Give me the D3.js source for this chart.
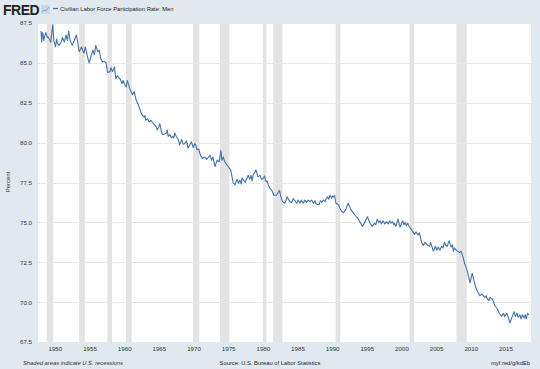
<!DOCTYPE html>
<html>
<head>
<meta charset="utf-8">
<script src="https://cdn.jsdelivr.net/npm/d3@7"></script>
<style>
  body { margin: 0; background: #e1e9f0; }
  svg { display: block; font-family: "Liberation Sans", Arial, sans-serif; }
</style>
</head>
<body>
<svg id="chart" width="540" height="369"></svg>
<script>
const obsYear = [
  1948.0, 1948.1, 1948.2, 1948.3, 1948.4, 1948.5, 1948.7, 1948.9,
  1949.1, 1949.4, 1949.7, 1949.85,
  1950.1, 1950.25, 1950.4, 1950.6, 1950.9,
  1951.1, 1951.35, 1951.6, 1951.8,
  1952.0, 1952.2, 1952.5, 1952.8,
  1953.1, 1953.3, 1953.5, 1953.85,
  1954.2, 1954.4, 1954.7, 1954.95,
  1955.2, 1955.5, 1955.7, 1955.9,
  1956.2, 1956.4, 1956.6, 1956.85,
  1957.1, 1957.4, 1957.6, 1957.95,
  1958.1, 1958.3, 1958.6, 1958.8,
  1959.0, 1959.4, 1959.7, 1959.85,
  1960.1, 1960.3, 1960.45, 1960.6, 1960.8,
  1961.0, 1961.2, 1961.45, 1961.7, 1961.9,
  1962.2, 1962.4, 1962.65, 1962.9,
  1963.0, 1963.1, 1963.35, 1963.6, 1963.85,
  1964.2, 1964.4, 1964.6, 1964.8,
  1965.0, 1965.15, 1965.4, 1965.6,
  1966.1, 1966.2, 1966.35, 1966.6, 1966.8,
  1967.0, 1967.15, 1967.3, 1967.5, 1967.8,
  1968.0, 1968.3, 1968.5, 1968.75,
  1969.0, 1969.2, 1969.7, 1969.95,
  1970.2, 1970.35, 1970.5, 1970.75,
  1971.0, 1971.3, 1971.6, 1971.9,
  1972.2, 1972.4, 1972.6, 1972.8, 1972.95,
  1973.1, 1973.4, 1973.7, 1973.95,
  1974.1, 1974.3, 1974.5, 1974.75,
  1975.0, 1975.35, 1975.5, 1975.7,
  1976.0, 1976.15, 1976.3, 1976.5, 1976.7, 1976.9,
  1977.0, 1977.2, 1977.45, 1977.7, 1977.9,
  1978.1, 1978.3, 1978.45, 1978.6, 1978.8,
  1979.0, 1979.3, 1979.6, 1979.8,
  1980.05, 1980.25, 1980.45, 1980.6, 1980.8,
  1981.0, 1981.3, 1981.6, 1981.95,
  1982.4, 1982.6, 1982.85,
  1983.2, 1983.5, 1983.9,
  1984.15, 1984.4, 1984.65, 1984.9,
  1985.1, 1985.35, 1985.55, 1985.8,
  1986.05, 1986.3, 1986.55, 1986.8,
  1987.05, 1987.3, 1987.5, 1987.7,
  1988.1, 1988.3, 1988.5, 1988.75,
  1989.0, 1989.15, 1989.3, 1989.5, 1989.7, 1989.95,
  1990.05, 1990.2, 1990.35, 1990.55, 1990.9,
  1991.2, 1991.6, 1991.95,
  1992.3, 1992.7,
  1993.05, 1993.4, 1993.8,
  1994.1, 1994.4, 1994.7,
  1995.1, 1995.45, 1995.8,
  1996.1, 1996.3, 1996.5, 1996.7, 1996.9,
  1997.1, 1997.35, 1997.6, 1997.85,
  1998.1, 1998.3, 1998.5, 1998.7, 1998.9,
  1999.0, 1999.2, 1999.5, 1999.8,
  2000.0, 2000.2, 2000.35, 2000.55, 2000.7, 2000.9,
  2001.1, 2001.5, 2001.9,
  2002.1, 2002.4, 2002.6, 2002.9,
  2003.15, 2003.4, 2003.8,
  2004.05, 2004.2, 2004.6, 2004.9,
  2005.1, 2005.3, 2005.55, 2005.8,
  2006.0, 2006.2, 2006.4, 2006.6, 2006.75, 2006.9,
  2007.05, 2007.2, 2007.35, 2007.5, 2007.65, 2007.8,
  2008.1, 2008.4, 2008.6, 2008.9,
  2009.1, 2009.4, 2009.7, 2009.9,
  2010.2, 2010.5, 2010.7,
  2011.0, 2011.3, 2011.6,
  2012.05, 2012.2, 2012.4, 2012.6, 2012.8,
  2013.1, 2013.3, 2013.5, 2013.8,
  2014.1, 2014.45, 2014.7, 2014.9,
  2015.2, 2015.45, 2015.65, 2015.9,
  2016.25, 2016.45, 2016.65, 2016.85,
  2017.1, 2017.25, 2017.45, 2017.7, 2017.85,
  2018.0, 2018.2, 2018.4
];
const obsValue = [
  87.0, 86.3, 86.9, 86.8, 86.4, 86.6, 86.9, 86.6,
  86.6, 86.3, 87.4, 86.4,
  86.0, 86.5, 86.2, 86.1, 86.3,
  86.6, 86.3, 86.75, 86.4,
  87.0, 86.4, 86.1, 86.4,
  86.75, 86.3, 85.7, 86.0,
  85.6, 86.0, 85.4, 85.0,
  85.4, 85.8, 85.5, 86.1,
  85.7, 85.8, 85.3, 85.05,
  85.1, 85.0, 84.4, 84.45,
  84.7, 84.45, 84.75, 84.0,
  84.2, 84.0, 83.7, 83.9,
  83.6, 83.5, 83.9, 83.7, 83.4,
  83.2, 83.0, 83.2, 82.7, 82.5,
  82.2, 81.9, 81.7, 81.6,
  81.7, 81.4, 81.5, 81.3, 81.4,
  81.2, 81.1, 81.0, 80.8,
  81.0, 81.2, 80.6, 80.5,
  80.6, 80.8, 80.4, 80.5, 80.3,
  80.4, 80.3, 80.6, 80.4, 80.2,
  79.85, 80.2, 79.9, 79.95,
  80.1, 79.65, 80.05, 79.7,
  79.95, 79.8, 79.55, 79.6,
  79.2, 79.0, 79.1, 78.95,
  79.1, 79.2, 78.9, 79.1, 78.8,
  78.5, 78.9, 78.8, 79.5,
  78.9, 79.1, 78.8, 78.65,
  78.5, 78.3, 78.0, 77.5,
  77.35, 77.55, 77.7, 77.45, 77.65, 77.4,
  77.8, 77.65, 77.5, 77.75, 77.95,
  77.7, 77.95, 77.6, 77.95, 78.1,
  78.3, 77.85, 77.95, 77.7,
  77.75, 77.9, 77.55, 77.6, 77.35,
  77.15, 77.0, 76.7, 76.7,
  77.0, 76.6, 76.3,
  76.2, 76.6, 76.3,
  76.25, 76.5, 76.35, 76.2,
  76.4, 76.2, 76.4, 76.2,
  76.4, 76.25, 76.4, 76.3,
  76.4, 76.2, 76.35, 76.15,
  76.1, 76.35, 76.25, 76.4,
  76.3, 76.5, 76.6, 76.45, 76.7, 76.5,
  76.65, 76.6, 76.7, 76.2, 76.1,
  75.8, 75.6, 75.8,
  76.2, 75.8,
  75.6, 75.4, 75.2,
  74.95, 74.75, 75.0,
  75.35, 74.95, 74.75,
  74.95, 74.85, 75.2, 75.0, 75.1,
  74.9, 75.1, 74.9, 75.05,
  74.9, 75.1, 74.95, 75.05, 74.85,
  74.95, 74.75, 75.2, 74.7,
  74.95, 75.1, 74.85, 75.0, 74.8, 74.95,
  74.75, 74.5, 74.25,
  74.4, 74.2, 74.35, 73.75,
  73.55, 73.75, 73.55,
  73.5, 73.75, 73.2, 73.5,
  73.25, 73.45, 73.25, 73.5,
  73.4, 73.75, 73.55, 73.5, 73.7, 73.85,
  73.6, 73.45, 73.6, 73.2, 73.4, 73.3,
  73.2, 73.1, 73.2, 72.8,
  72.45, 72.1, 71.6, 71.2,
  71.8, 71.3, 70.95,
  70.65, 70.4, 70.5,
  70.3, 70.4, 70.2, 70.1, 70.3,
  70.2, 70.0, 69.75, 69.6,
  69.3, 69.1, 69.3, 69.1,
  69.3, 69.0, 68.7, 69.0,
  69.4, 69.1, 69.3, 69.05,
  69.2, 68.95, 69.2, 69.0, 69.2,
  68.95, 69.3, 69.2
];

// NBER recessions (decimal years)
const recStart = [1948.83, 1953.5, 1957.58, 1960.25, 1969.92, 1973.83, 1980.0, 1981.5, 1990.5, 2001.17, 2007.92];
const recEnd   = [1949.75, 1954.33, 1958.25, 1961.08, 1970.83, 1975.17, 1980.5, 1982.83, 1991.17, 2001.83, 2009.42];

const yTicks = [67.5, 70.0, 72.5, 75.0, 77.5, 80.0, 82.5, 85.0, 87.5];
const xTicks = [1950, 1955, 1960, 1965, 1970, 1975, 1980, 1985, 1990, 1995, 2000, 2005, 2010, 2015];

const seriesName = "Civilian Labor Force Participation Rate: Men";

const plotL = 38, plotR = 531, plotT = 23, plotB = 342;

const svg = d3.select("#chart");

const x = d3.scaleLinear().domain([1948, 2018.4]).range([41, 529]);
const y = d3.scaleLinear().domain([67.5, 87.5]).range([plotB, plotT]);

// background
svg.append("rect").attr("width", 540).attr("height", 369).attr("fill", "#e1e9f0");
svg.append("rect")
    .attr("x", plotL).attr("y", plotT)
    .attr("width", plotR - plotL).attr("height", plotB - plotT)
    .attr("fill", "#ffffff");

// recession bars
svg.append("g")
    .selectAll("rect")
    .data(recStart.map((s, i) => [s, recEnd[i]]))
    .enter().append("rect")
    .attr("x", d => x(d[0]))
    .attr("y", plotT)
    .attr("width", d => x(d[1]) - x(d[0]))
    .attr("height", plotB - plotT)
    .attr("fill", "#e3e3e3");

// grid lines
svg.append("g")
    .selectAll("line")
    .data(yTicks)
    .enter().append("line")
    .attr("x1", plotL).attr("x2", plotR)
    .attr("y1", d => Math.round(y(d)) + 0.5)
    .attr("y2", d => Math.round(y(d)) + 0.5)
    .attr("stroke", "#e8e8e8")
    .attr("stroke-width", 1);

// y axis
const yAxis = svg.append("g")
    .attr("transform", "translate(" + plotL + ",0)")
    .call(d3.axisLeft(y).tickValues(yTicks).tickFormat(d3.format(".1f")).tickSize(0).tickPadding(6));
yAxis.select(".domain").remove();
yAxis.selectAll("text").attr("font-size", 6.2).attr("fill", "#333").attr("font-family", "inherit");

// x axis
const xAxis = svg.append("g")
    .attr("transform", "translate(0," + plotB + ")")
    .call(d3.axisBottom(x).tickValues(xTicks).tickFormat(d3.format("d")).tickSize(0).tickPadding(5));
xAxis.select(".domain").remove();
xAxis.selectAll("text").attr("font-size", 6.2).attr("fill", "#333").attr("font-family", "inherit");

// y label
svg.append("text")
    .attr("transform", "translate(10,182) rotate(-90)")
    .attr("text-anchor", "middle")
    .attr("font-size", 6)
    .attr("fill", "#333")
    .text("Percent");

// the line
svg.append("path")
    .datum(obsYear.map((yr, i) => [yr, obsValue[i]]))
    .attr("fill", "none")
    .attr("stroke", "#4572a7")
    .attr("stroke-width", 1.1)
    .attr("stroke-linejoin", "round")
    .attr("d", d3.line().x(d => x(d[0])).y(d => y(d[1])));

// header: logo + legend
svg.append("text")
    .attr("x", 3).attr("y", 14.5)
    .attr("font-size", 14).attr("font-weight", "bold")
    .attr("fill", "#222")
    .attr("letter-spacing", -0.5)
    .text("FRED");
const icon = svg.append("g").attr("transform", "translate(41,5)");
icon.append("rect").attr("width", 9).attr("height", 9).attr("fill", "#c9d6e3");
icon.append("path").attr("d", "M1,7 L3,5 L5,6 L8,2").attr("fill", "none").attr("stroke", "#7fa4c8").attr("stroke-width", 1);

svg.append("line")
    .attr("x1", 53).attr("x2", 58).attr("y1", 8.5).attr("y2", 8.5)
    .attr("stroke", "#4572a7").attr("stroke-width", 1.2);
svg.append("text")
    .attr("x", 60).attr("y", 10.5)
    .attr("font-size", 5.8)
    .attr("fill", "#222")
    .text(seriesName);

// footer
svg.append("text")
    .attr("x", 23).attr("y", 365)
    .attr("font-size", 5.8).attr("font-style", "italic")
    .attr("fill", "#333")
    .text("Shaded areas indicate U.S. recessions");
svg.append("text")
    .attr("x", 270).attr("y", 365)
    .attr("text-anchor", "middle")
    .attr("font-size", 5.8)
    .attr("fill", "#222")
    .text("Source: U.S. Bureau of Labor Statistics");
svg.append("text")
    .attr("x", 530).attr("y", 365)
    .attr("text-anchor", "end")
    .attr("font-size", 5.8)
    .attr("fill", "#222")
    .text("myf.red/g/kdEb");
</script>
</body>
</html>
